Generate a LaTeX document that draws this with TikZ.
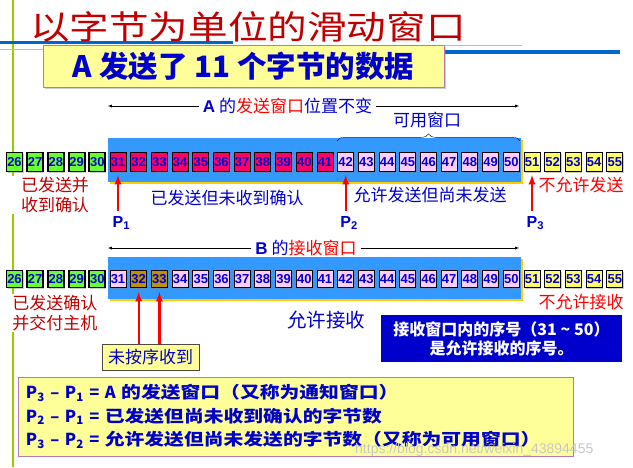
\documentclass[tikz,border=0pt]{standalone}
\usepackage{fontspec}
\setmainfont{Noto Sans CJK SC}
\newfontfamily\widefont{Noto Sans CJK SC}[FakeStretch=1.2]
\newfontfamily\plainfont{Noto Sans CJK SC}
\newfontfamily\numfont{Liberation Sans}
\usetikzlibrary{positioning,shadows,decorations.pathreplacing}

\definecolor{titlered}{HTML}{C00000}
\definecolor{txtblue}{HTML}{0000CC}
\definecolor{lblred}{HTML}{C00000}
\definecolor{brightred}{HTML}{FF0000}
\definecolor{bandblue}{HTML}{3399FF}
\definecolor{ackgreen}{HTML}{66FF33}
\definecolor{sentred}{HTML}{FF0066}
\definecolor{okpink}{HTML}{FFCCFF}
\definecolor{noyellow}{HTML}{FFFF66}
\definecolor{lategold}{HTML}{C09000}
\definecolor{paleyellow}{HTML}{FFFF99}
\definecolor{deepblue}{HTML}{0000CC}
\definecolor{linegreen}{HTML}{99CC00}
\definecolor{rulerblue}{HTML}{0066CC}
\definecolor{rulercyan}{HTML}{88CCEE}
\definecolor{boxpurple}{HTML}{B37AB3}
\definecolor{shadowyellow}{HTML}{FFCC00}

\begin{document}
\begin{tikzpicture}[x=1pt, y=-1pt,
        cell/.style={rectangle, draw=black, line width=1pt, inner sep=0pt,
            minimum width=16pt, minimum height=19pt, text=txtblue,
            font=\numfont\bfseries\fontsize{13}{13}\selectfont,
            drop shadow={shadow xshift=1pt, shadow yshift=-1pt, opacity=0.4}},
        short/.style={minimum height=17pt},
        acked/.style={cell, fill=ackgreen, line width=1.8pt},
        sent/.style={cell, fill=sentred},
        usable/.style={cell, fill=okpink},
        blocked/.style={cell, fill=noyellow},
        late/.style={cell, fill=lategold},
        band/.style={rectangle, fill=bandblue, inner sep=0pt,
            drop shadow={shadow xshift=2pt, shadow yshift=-2pt, fill=shadowyellow, opacity=1}},
        winlabel/.style={font=\fontsize{17}{17}\selectfont, inner sep=4pt},
        winline/.style={thin, -latex},
        bluetag/.style={font=\fontsize{17}{17}\selectfont, text=txtblue, inner sep=1pt},
        redtag/.style={font=\fontsize{17}{17}\selectfont, text=brightred, inner sep=1pt},
        lefttag/.style={font=\fontsize{17}{20}\selectfont, text=lblred, align=center,
            fill=white, inner sep=1pt, minimum width=90pt},
        plabel/.style={font=\numfont\bfseries\fontsize{16}{16}\selectfont, text=txtblue, inner sep=0pt},
        redarrow/.style={draw=brightred, line width=2.2pt, -latex},
        brace/.style={decorate, decoration={brace, amplitude=7pt}, thin},
        headbox/.style={rectangle, draw=boxpurple, line width=1pt, fill=paleyellow,
            minimum width=401pt, minimum height=42pt, text=txtblue,
            font=\bfseries\fontsize{29.5}{29.5}\selectfont,
            drop shadow={shadow xshift=2pt, shadow yshift=-2pt, opacity=0.4}},
        notebox/.style={rectangle, draw=black!80!yellow, fill=paleyellow,
            minimum width=97pt, minimum height=26pt, text=txtblue,
            font=\fontsize{17}{17}\selectfont},
        infobox/.style={rectangle, fill=deepblue, minimum width=241pt, minimum height=47pt,
            text=white, align=center, font=\bfseries\fontsize{16}{19}\selectfont},
        sumbox/.style={rectangle, draw=boxpurple, fill=paleyellow,
            minimum width=555pt, minimum height=79pt, text width=539pt, inner xsep=8pt,
            align=left, text=txtblue, font=\widefont\bfseries\fontsize{16.5}{23.5}\selectfont}
    ]
    \useasboundingbox (0,0) rectangle (633,467);

    % Slide decoration
    \draw[linegreen, line width=2.5pt] (13,0) -- (13,467);
    \draw[rulerblue, line width=3.5pt] (0,42.5) -- (233,42.5);
    \draw[rulercyan, line width=1pt] (0,49) -- (200,49);
    \draw[rulerblue, line width=4pt] (443,52) -- (620,52);
    \draw[rulercyan, line width=1pt] (443,45) -- (522,45);

    % Titles
    \node[font=\widefont\fontsize{33}{33}\selectfont, text=titlered, anchor=west, inner sep=0pt]
        (title) at (30,27) {以字节为单位的滑动窗口};
    \node[headbox] (head) at (243.5,66) {A 发送了 11 个字节的数据};

    % Windows
    \node[band, minimum width=413pt, minimum height=44pt] (winA) at (314.5,160) {};
    \node[band, minimum width=413pt, minimum height=42pt] (winB) at (314.5,278) {};

    % Sender bytes
    \foreach \i in {26,...,30} \node[acked] (a\i) at ({14.5+20.7*(\i-26)},162) {\i};
    \foreach \i in {31,...,41} \node[sent] (a\i) at ({14.5+20.7*(\i-26)},162) {\i};
    \foreach \i in {42,...,50} \node[usable] (a\i) at ({14.5+20.7*(\i-26)},162) {\i};
    \foreach \i in {51,...,55} \node[blocked] (a\i) at ({14.5+20.7*(\i-26)},162) {\i};

    % Receiver bytes
    \foreach \i in {26,...,30} \node[acked, short] (b\i) at ({14.5+20.7*(\i-26)},279) {\i};
    \node[usable, short] (b31) at (118,279) {31};
    \foreach \i in {32,33} \node[late, short] (b\i) at ({14.5+20.7*(\i-26)},279) {\i};
    \foreach \i in {34,...,50} \node[usable, short] (b\i) at ({14.5+20.7*(\i-26)},279) {\i};
    \foreach \i in {51,...,55} \node[blocked, short] (b\i) at ({14.5+20.7*(\i-26)},279) {\i};

    % Window labels with arrows
    \node[winlabel] (wa) at (287.5,106)
        {\textcolor{txtblue}{{\numfont\bfseries A} 的}\textcolor{brightred}{发送窗口}\textcolor{txtblue}{位置不变}};
    \draw[winline] (wa.west) -- (wa.west -| winA.west);
    \draw[winline] (wa.east) -- ([xshift=-2pt]wa.east -| winA.east);

    \node[winlabel] (wb) at (306,248)
        {\textcolor{txtblue}{{\numfont\bfseries B} 的}\textcolor{brightred}{接收窗口}};
    \draw[winline] (wb.west) -- (wb.west -| winB.west);
    \draw[winline] (wb.east) -- ([xshift=-2pt]wb.east -| winB.east);

    % Usable window brace
    \path (a42.west |- winA.north) ++(0,3) coordinate (usel);
    \path (a50.east |- winA.north) ++(0,3) coordinate (user);
    \draw[brace] (usel) -- (user);
    \node[bluetag] (availwin) at (427,120) {可用窗口};

    % Sender labels
    \node[lefttag] (done) at (55,195) {已发送并\\收到确认};
    \node[bluetag] (unack) at (227,198) {已发送但未收到确认};
    \node[bluetag] (avail) at (430,195) {允许发送但尚未发送};
    \node[redtag] (nosend) at (581,185) {不允许发送};

    % Pointers
    \node[plabel, below=44pt of a31] (p1) {P\rlap{\textsubscript{1}}};
    \node[plabel, below=44pt of a42] (p2) {P\rlap{\textsubscript{2}}};
    \node[plabel, below=44pt of a51] (p3) {P\rlap{\textsubscript{3}}};
    \foreach \p/\c in {p1/a31, p2/a42, p3/a51} {
        \draw[redarrow, shorten <=5pt, shorten >=3pt] (\p.north) -- (\c.south);
    }

    % Receiver labels
    \node[lefttag] (delivered) at (55,313) {已发送确认\\并交付主机};
    \node[bluetag, font=\fontsize{19.5}{19.5}\selectfont] (recv) at (326,320) {允许接收};
    \node[redtag] (norecv) at (581,302) {不允许接收};
    \node[notebox] (outoforder) at (150.5,357) {未按序收到};
    \draw[redarrow, shorten >=4pt] (b32 |- outoforder.north) -- (b32.south);
    \draw[redarrow, shorten >=4pt] (b33 |- outoforder.north) -- (b33.south);
    \node[infobox] (info) at (501.5,338.5) {接收窗口内的序号（31 \textasciitilde{} 50）\\是允许接收的序号。};

    % Summary
    \node[sumbox] (summary) at (295.5,416.5)
        {{\plainfont P\textsubscript{3} – P\textsubscript{1} = A} 的发送窗口（又称为通知窗口）\\
         {\plainfont P\textsubscript{2} – P\textsubscript{1} =} 已发送但尚未收到确认的字节数\\
         {\plainfont P\textsubscript{3} – P\textsubscript{2} =} 允许发送但尚未发送的字节数（又称为可用窗口）};
    \node[font=\numfont\fontsize{14}{14}\selectfont, text=black!22, anchor=west, inner sep=0pt]
        (mark) at (355,450) {https://blog.csdn.net/weixin\_43894455};
\end{tikzpicture}
\end{document}
